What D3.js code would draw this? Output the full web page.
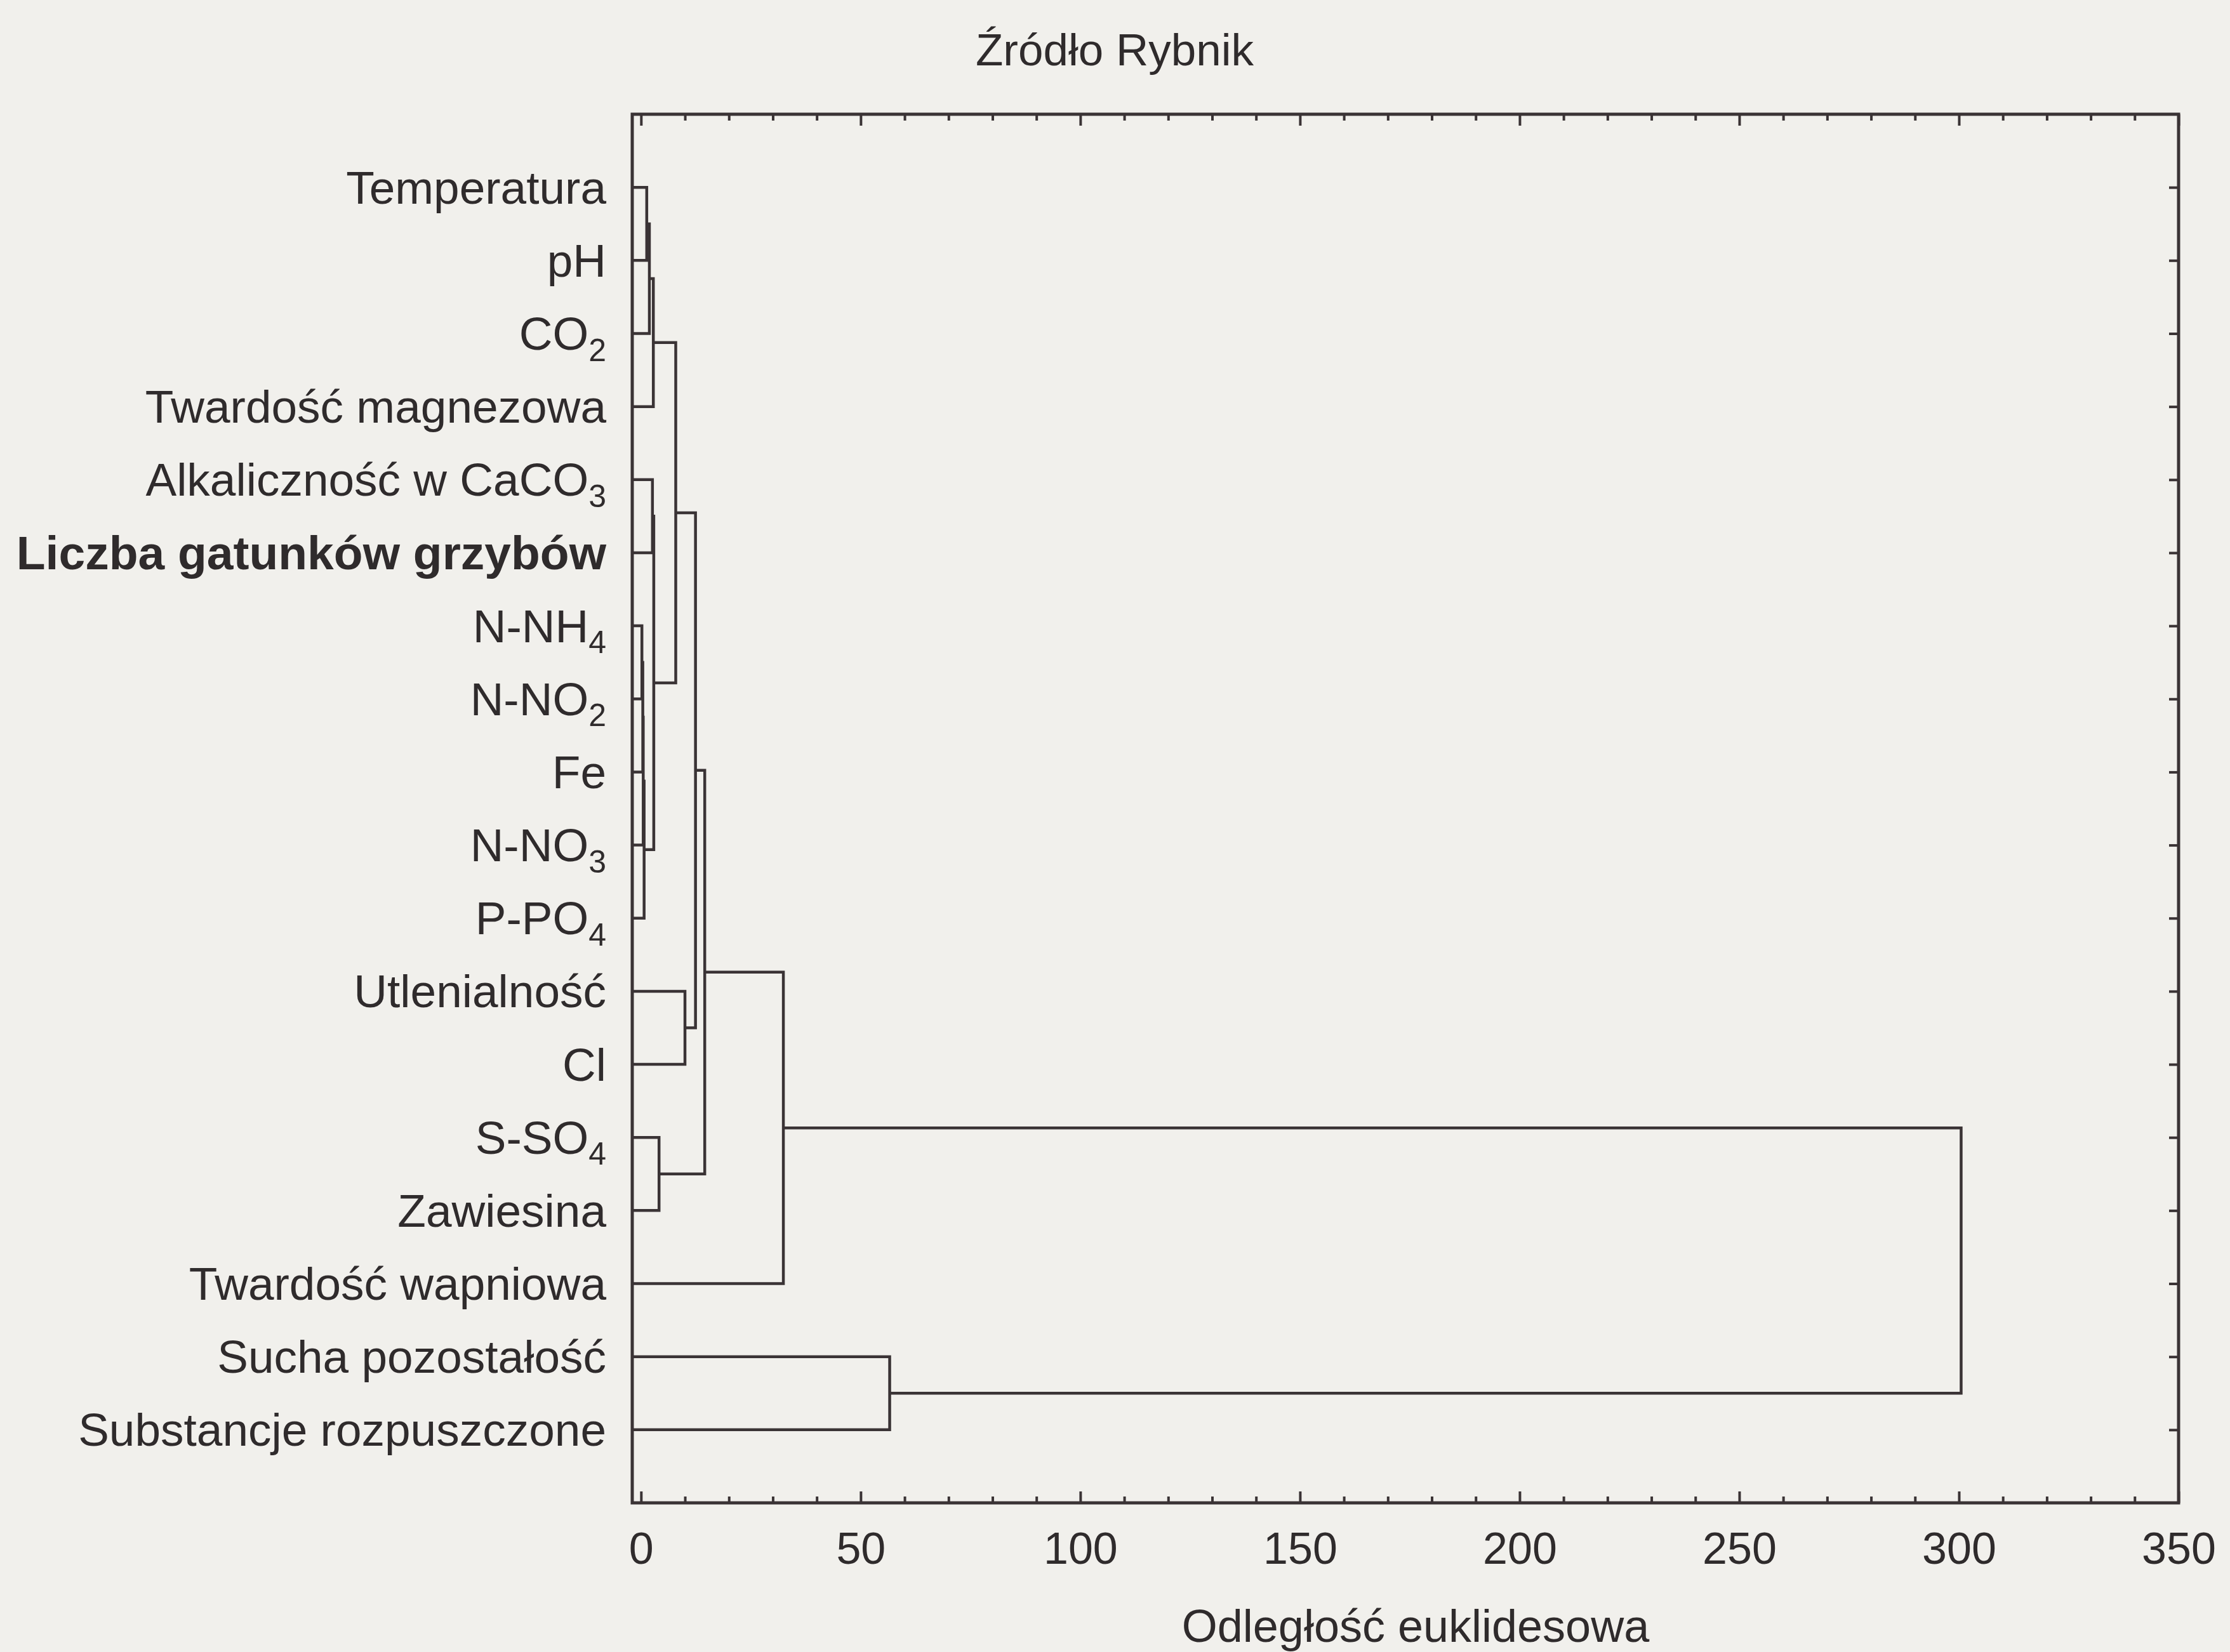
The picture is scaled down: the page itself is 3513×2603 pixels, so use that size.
<!DOCTYPE html>
<html>
<head>
<meta charset="utf-8">
<script src="https://cdn.jsdelivr.net/npm/d3@7"></script>
<style>
  html, body { margin: 0; padding: 0; background: #f1f0ec; }
  text { font-family: "Liberation Sans", Arial, sans-serif; fill: #2f2b2c; }
</style>
</head>
<body>
<div id="chart"></div>
<script>
// liście dendrogramu, od góry do dołu ("_" = indeks dolny)
const labels = [
  "Temperatura", "pH", "CO_2", "Twardość magnezowa", "Alkaliczność w CaCO_3",
  "Liczba gatunków grzybów", "N-NH_4", "N-NO_2", "Fe", "N-NO_3", "P-PO_4",
  "Utlenialność", "Cl", "S-SO_4", "Zawiesina", "Twardość wapniowa",
  "Sucha pozostałość", "Substancje rozpuszczone"
];
const boldLabels = ["Liczba gatunków grzybów"];

// łączenia: [węzeł A, węzeł B, odległość]; nowe węzły numerowane od 18
const linkage = [
  [0, 1, 1.3],    // 18
  [18, 2, 1.9],   // 19
  [19, 3, 2.8],   // 20
  [4, 5, 2.6],    // 21
  [6, 7, 0.2],    // 22
  [22, 8, 0.4],   // 23
  [23, 9, 0.5],   // 24
  [24, 10, 0.7],  // 25
  [21, 25, 2.9],  // 26
  [20, 26, 7.9],  // 27
  [11, 12, 10.0], // 28
  [27, 28, 12.4], // 29
  [13, 14, 4.1],  // 30
  [29, 30, 14.5], // 31
  [31, 15, 32.4], // 32
  [16, 17, 56.6], // 33
  [32, 33, 300.5] // 34
];

const xMajor = [0, 50, 100, 150, 200, 250, 300, 350];
const xMinor = d3.range(0, 351, 10).filter(v => v % 50 !== 0);

const title = "Źródło Rybnik";
const xTitle = "Odległość euklidesowa";

// wymiary
const W = 3513, H = 2603;
const plotL = 996, plotR = 3432, plotT = 180, plotB = 2368;
const ink = "#3a3335";

const svg = d3.select("#chart")
  .append("svg")
  .attr("width", W)
  .attr("height", H);

svg.append("rect").attr("width", W).attr("height", H).attr("fill", "#f1f0ec");

// skale
const x = d3.scaleLinear().domain([-2, 350]).range([plotL, plotR]);
const y = d3.scalePoint().domain(labels).range([plotT, plotB]).padding(1);

// pozycje węzłów
const nodeH = [], nodeY = [];
labels.forEach((l, i) => { nodeH[i] = x.domain()[0]; nodeY[i] = y(l); });
linkage.forEach(([a, b, h], k) => {
  const id = labels.length + k;
  nodeH[id] = h;
  nodeY[id] = (nodeY[a] + nodeY[b]) / 2;
});

// osie (kreski do wewnątrz)
function styleAxis(g) {
  g.select(".domain").remove();
  g.attr("color", ink).attr("font-size", 70).attr("font-family", null);
  g.selectAll(".tick line").attr("stroke-width", 4);
}

svg.append("g")
  .attr("transform", `translate(0,${plotB})`)
  .call(d3.axisBottom(x).tickValues(xMajor).tickSize(-18).tickPadding(46).tickFormat(d3.format("d")))
  .call(styleAxis);

svg.append("g")
  .attr("transform", `translate(0,${plotB})`)
  .call(d3.axisBottom(x).tickValues(xMinor).tickSize(-10).tickFormat(""))
  .call(styleAxis);

svg.append("g")
  .attr("transform", `translate(0,${plotT})`)
  .call(d3.axisTop(x).tickValues(xMajor).tickSize(-18).tickFormat(""))
  .call(styleAxis);

svg.append("g")
  .attr("transform", `translate(0,${plotT})`)
  .call(d3.axisTop(x).tickValues(xMinor).tickSize(-10).tickFormat(""))
  .call(styleAxis);

svg.append("g")
  .attr("transform", `translate(${plotR},0)`)
  .call(d3.axisRight(y).tickSize(-15).tickFormat(""))
  .call(styleAxis);

// ramka
svg.append("rect")
  .attr("x", plotL).attr("y", plotT)
  .attr("width", plotR - plotL).attr("height", plotB - plotT)
  .attr("fill", "none")
  .attr("stroke", ink)
  .attr("stroke-width", 5);

// gałęzie dendrogramu
svg.append("g")
  .selectAll("path")
  .data(linkage)
  .join("path")
  .attr("fill", "none")
  .attr("stroke", ink)
  .attr("stroke-width", 4.5)
  .attr("d", ([a, b, h]) =>
    `M${x(nodeH[a])},${nodeY[a]}H${x(h)}V${nodeY[b]}H${x(nodeH[b])}`);

// etykiety liści
const lab = svg.append("g")
  .selectAll("text")
  .data(labels)
  .join("text")
  .attr("x", 955)
  .attr("y", d => y(d))
  .attr("dy", "0.35em")
  .attr("text-anchor", "end")
  .attr("font-size", d => boldLabels.includes(d) ? 75 : 73)
  .attr("font-weight", d => boldLabels.includes(d) ? "bold" : null);

lab.each(function (d) {
  const parts = d.split("_");
  const t = d3.select(this);
  t.append("tspan").text(parts[0]);
  if (parts.length > 1) {
    t.append("tspan")
      .attr("font-size", 50)
      .attr("dy", "0.35em")
      .text(parts[1]);
  }
});

// tytuły
svg.append("text")
  .attr("x", 1756)
  .attr("y", 103)
  .attr("text-anchor", "middle")
  .attr("font-size", 71)
  .text(title);

svg.append("text")
  .attr("x", 2230)
  .attr("y", 2587)
  .attr("text-anchor", "middle")
  .attr("font-size", 72)
  .text(xTitle);
</script>
</body>
</html>
